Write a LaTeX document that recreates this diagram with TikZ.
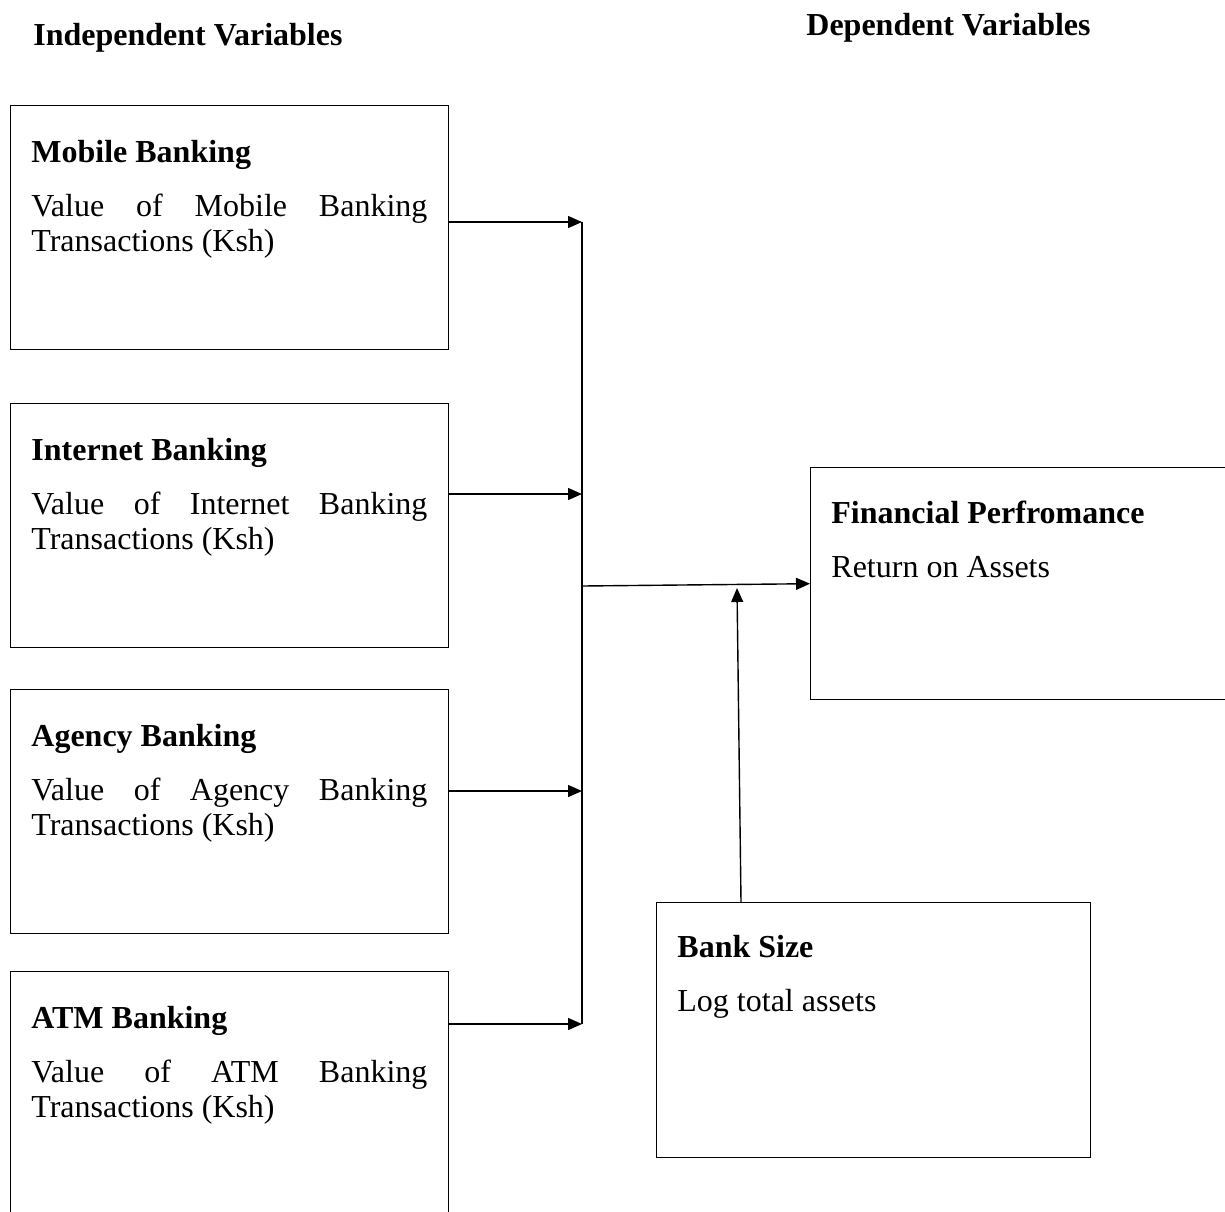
\documentclass[tikz,border=0pt]{standalone}
\usepackage{fontspec}
\setmainfont{Liberation Serif}
\usetikzlibrary{positioning, calc, arrows.meta}
\tolerance=10000
\hyphenpenalty=10000

\begin{document}
\begin{tikzpicture}[
    x=0.5pt, y=-0.5pt,
    box/.style={rectangle, draw, line width=0.7pt, inner sep=0pt, anchor=north west},
    txt/.style={anchor=base west, inner sep=0pt, text width=198pt, align=justify,
        font=\fontsize{16}{17.5}\selectfont},
    head/.style={anchor=base west, inner sep=0pt, font=\fontsize{16}{17.5}\selectfont\bfseries},
    line/.style={draw, line width=0.7pt, -{Triangle[length=7pt, width=6pt]}}
]
\clip (0,0) rectangle (1225,1211);

% Titles
\node [head] (indep) at (33,45) {Independent Variables};
\node [head] (dep) at (806,35) {Dependent Variables};

% Nodes
\node [box, minimum width=219pt, minimum height=122pt] (mobile) at (10,105) {};
\node [box, minimum width=219pt, minimum height=122pt] (internet) at (10,403) {};
\node [box, minimum width=219pt, minimum height=122pt] (agency) at (10,689) {};
\node [box, minimum width=219pt, minimum height=160pt] (atm) at (10,971) {};
\node [box, minimum width=250pt, minimum height=116pt] (fin) at (810,467) {};
\node [box, minimum width=217pt, minimum height=127.5pt] (size) at (656,902) {};

% Texts
\node [txt] (mobiletxt) at ($(mobile.north west)+(21,57)$)
    {\textbf{Mobile Banking}\par\vspace{9.5pt}Value of Mobile Banking \mbox{Transactions} (Ksh)};
\node [txt] (internettxt) at ($(internet.north west)+(21,57)$)
    {\textbf{Internet Banking}\par\vspace{9.5pt}Value of Internet Banking \mbox{Transactions} (Ksh)};
\node [txt] (agencytxt) at ($(agency.north west)+(21,57)$)
    {\textbf{Agency Banking}\par\vspace{9.5pt}Value of Agency Banking \mbox{Transactions} (Ksh)};
\node [txt] (atmtxt) at ($(atm.north west)+(21,57)$)
    {\textbf{ATM Banking}\par\vspace{9.5pt}Value of ATM Banking \mbox{Transactions} (Ksh)};
\node [txt] (fintxt) at ($(fin.north west)+(21,56)$)
    {\textbf{Financial Perfromance}\par\vspace{9.5pt}Return on Assets};
\node [txt] (sizetxt) at ($(size.north west)+(21,55)$)
    {\textbf{Bank Size}\par\vspace{9.5pt}Log total assets};

% Bus points
\coordinate (bustop) at (582,222);
\coordinate (businternet) at (582,494);
\coordinate (busagency) at (582,791);
\coordinate (busbot) at (582,1024);
\coordinate (hub) at (582,586);
\coordinate (join) at (737,588);
\coordinate (sizeout) at ($(size.north west)+(85,0)$);

% Lines
\draw [line width=0.7pt] (bustop) -- (busbot);
\path [line] (mobile.east |- bustop) -- (bustop);
\path [line] (internet.east |- businternet) -- (businternet);
\path [line] (agency.east |- busagency) -- (busagency);
\path [line] (atm.east |- busbot) -- (busbot);
\path [line] (hub) -- (fin.west);
\path [line] (sizeout) -- (join);

\end{tikzpicture}
\end{document}
